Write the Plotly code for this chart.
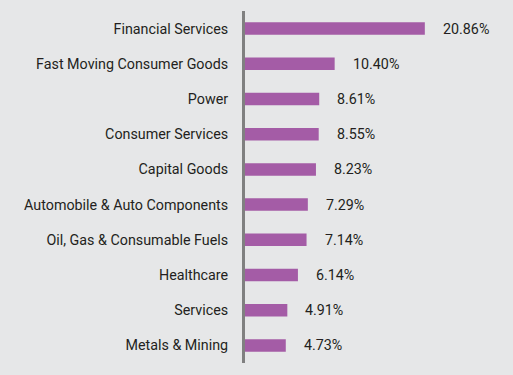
import plotly.graph_objects as go

categories = ["Financial Services", "Fast Moving Consumer Goods", "Power", "Consumer Services",
              "Capital Goods", "Automobile & Auto Components", "Oil, Gas & Consumable Fuels",
              "Healthcare", "Services", "Metals & Mining"]
values = [20.86, 10.40, 8.61, 8.55, 8.23, 7.29, 7.14, 6.14, 4.91, 4.73]
value_labels = ["20.86%", "10.40%", "8.61%", "8.55%", "8.23%", "7.29%", "7.14%", "6.14%", "4.91%", "4.73%"]

BG = "#e6e7e8"

fig = go.Figure(go.Bar(
    x=values, y=categories, orientation="h",
    marker=dict(color="#a45ca6", line=dict(width=0)),
    hoverinfo="skip",
))

for c, v, t in zip(categories, values, value_labels):
    fig.add_annotation(x=v, y=c, text=t, showarrow=False, xanchor="left", xshift=16,
                       font=dict(family="Roboto", size=14.3, color="#231f20"))

fig.update_layout(
    width=513, height=375,
    margin=dict(l=245, r=18, t=11, b=12),
    paper_bgcolor=BG, plot_bgcolor=BG,
    bargap=0.645,
    showlegend=False,
    font=dict(family="Roboto", size=14.3, color="#231f20"),
    xaxis=dict(range=[0, 29], visible=False, fixedrange=True),
    yaxis=dict(categoryorder="array", categoryarray=categories[::-1],
               showline=True, linecolor="#808080", linewidth=3,
               showgrid=False, zeroline=False, ticks="", ticklabelstandoff=11,
               fixedrange=True),
)

fig.write_html(
    "out.html",
    config={"displayModeBar": False},
    post_script="document.body.style.margin='0';document.body.style.background='" + BG + "';",
)
